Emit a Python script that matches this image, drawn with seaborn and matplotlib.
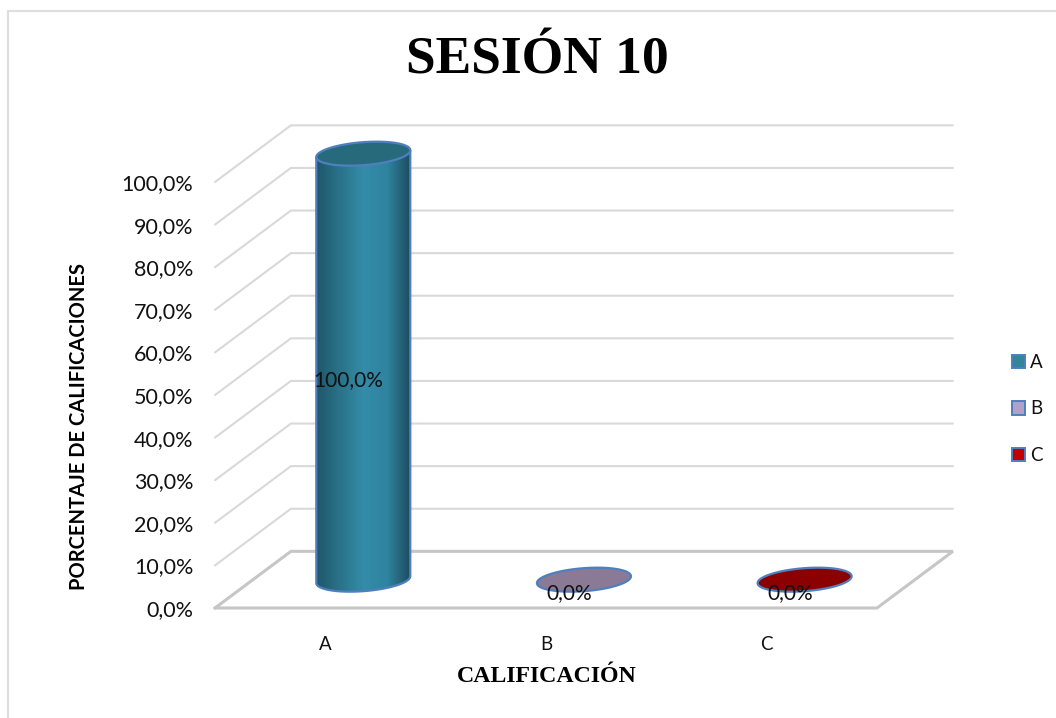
import numpy as np
import pandas as pd
import matplotlib
matplotlib.use("Agg")
import matplotlib.pyplot as plt
from matplotlib.lines import Line2D
from matplotlib.patches import Patch, PathPatch
from matplotlib.path import Path
from matplotlib.transforms import Affine2D
from matplotlib.colors import LinearSegmentedColormap
import seaborn as sns

# Grades and their share of the session
categories = ["A", "B", "C"]
percentages = [100.0, 0.0, 0.0]

title_text = "SESIÓN 10"
x_label_text = "CALIFICACIÓN"
y_label_text = "PORCENTAJE DE CALIFICACIONES"
y_ticks = [0, 10, 20, 30, 40, 50, 60, 70, 80, 90, 100]

cap_colors = {"A": "#266a7c", "B": "#8a7a96", "C": "#8b0000"}
legend_colors = {"A": "#31859c", "B": "#b1a0c7", "C": "#c00000"}
edge_color = "#4f7fbe"
grid_color = "#d9d9d9"
floor_color = "#c6c6c6"
frame_color = "#dedede"

# Fake-3D projection: the back wall is offset from the front plane
depth_x = 0.344
depth_y = 13.3
bar_width = 0.426
cap_b = 2.7
cap_tilt = 0.8


def percent(value):
    return f"{value:.1f}%".replace(".", ",")


def cap_outline(cx, cy, t):
    """Slanted ellipse around a cylinder axis, in data units."""
    half = bar_width / 2
    return (cx + half * np.cos(t),
            cy + cap_b * np.sin(t) + cap_tilt * np.cos(t))


sns.set_theme(style="white")
plt.rcParams["font.family"] = ["Lato", "DejaVu Sans"]

W, H = 1056, 718
fig = plt.figure(figsize=(W / 100, H / 100), dpi=100, facecolor="white")
ax = fig.add_axes([215 / W, 1 - 608 / H, (877 - 215) / W, (608 - 182) / H])

data = pd.DataFrame({"grade": categories, "share": percentages})
sns.barplot(data=data, x="grade", y="share", hue="grade", palette=legend_colors,
            width=bar_width, legend=False, ax=ax, linewidth=0, zorder=3)

x0, x1 = -0.5, len(categories) - 0.5
ax.set_xlim(x0, x1)
ax.set_ylim(0, 100)
sns.despine(ax=ax, left=True, bottom=True)
ax.patch.set_visible(False)
ax.set_xlabel("")
ax.set_ylabel("")
ax.set_yticks(y_ticks)
ax.set_yticklabels([percent(v) for v in y_ticks], fontsize=15.5, color="#111111")
ax.tick_params(axis="y", length=0, pad=15.5)
ax.tick_params(axis="x", length=0, pad=20, labelsize=13.5, labelcolor="#111111")

# Side wall and back wall gridlines
for tick in y_ticks[1:]:
    ax.plot([x0, x0 + depth_x, x1 + depth_x],
            [tick, tick + depth_y, tick + depth_y],
            color=grid_color, lw=1.5, clip_on=False, zorder=1,
            solid_joinstyle="miter")

# Floor
ax.plot([x0, x1, x1 + depth_x, x0 + depth_x, x0],
        [0, 0, depth_y, depth_y, 0],
        color=floor_color, lw=2.2, clip_on=False, zorder=2,
        solid_joinstyle="miter")

shade = LinearSegmentedColormap.from_list(
    "cylinder", ["#1f566a", "#2a7389", "#348ca8", "#2f84a0", "#1c4b5c"])
t_all = np.linspace(0, 2 * np.pi, 160)
t_lower = np.linspace(np.pi, 2 * np.pi, 80)
bars = [c[0] for c in ax.containers]

for name, value, bar in zip(categories, percentages, bars):
    bar.set_transform(Affine2D().translate(depth_x / 2, depth_y / 2) + ax.transData)
    bar.set_clip_on(False)
    cx = bar.get_x() + bar.get_width() / 2 + depth_x / 2
    base = depth_y / 2
    top = base + bar.get_height()

    if value > 0:
        # Cylinder body with horizontal shading, clipped to its outline
        lx, ly = cap_outline(cx, base, t_lower)
        right = cx + bar_width / 2
        left = cx - bar_width / 2
        outline = np.column_stack([
            np.concatenate([[left], lx, [right]]),
            np.concatenate([[top - cap_tilt], ly, [top + cap_tilt]]),
        ])
        ax.add_patch(PathPatch(Path(outline), transform=ax.transData,
                               facecolor="none", edgecolor=edge_color, lw=1.6,
                               zorder=5, clip_on=False))
        image = ax.imshow(np.linspace(0, 1, 256)[None, :], cmap=shade, aspect="auto",
                          extent=[left, right, -5, top + 5], zorder=4)
        image.set_clip_box(fig.bbox)
        image.set_clip_path(Path(outline), ax.transData)
        ax.set_xlim(x0, x1)
        ax.set_ylim(0, 100)
        # The shaded body replaces the flat rectangle
        bar.set_visible(False)

    # Top face of the cylinder
    ex, ey = cap_outline(cx, top, t_all)
    ax.fill(ex, ey, facecolor=cap_colors[name], edgecolor=edge_color, lw=1.6,
            clip_on=False, zorder=6)

# Value labels
for i, value in enumerate(percentages):
    ax.text(i + 0.105, value / 2 + 3.5, percent(value), ha="center", va="center",
            fontsize=15, color="#111111", zorder=8, clip_on=False)

# Legend
handles = [Patch(facecolor=legend_colors[c], edgecolor=edge_color, lw=1.4, label=c)
           for c in categories]
fig.legend(handles=handles, loc="center left",
           bbox_to_anchor=(995 / W, 1 - 409 / H), frameon=False,
           fontsize=13.5, handlelength=0.72, handleheight=0.72,
           handletextpad=0.25, labelspacing=1.58, labelcolor="#111111")

# Headings
fig.text(537.5 / W, 1 - 61 / H, title_text, ha="center", va="center",
         family="Liberation Serif", fontweight="bold", fontsize=38.5, color="black")
fig.text(546.5 / W, 1 - 676 / H, x_label_text, ha="center", va="center",
         family="Liberation Serif", fontweight="bold", fontsize=17.2, color="black")
fig.text(79 / W, 1 - 426 / H, y_label_text, ha="center", va="center", rotation=90,
         fontweight="bold", fontsize=14.5, color="black")

# Chart frame, open towards the right and bottom edges of the image
fig.add_artist(Line2D([8 / W, 1], [1 - 10.5 / H, 1 - 10.5 / H], color=frame_color, lw=1.5))
fig.add_artist(Line2D([8 / W, 8 / W], [1 - 10.5 / H, 0], color=frame_color, lw=1.5))

fig.savefig("out.png", dpi=100, facecolor="white")
